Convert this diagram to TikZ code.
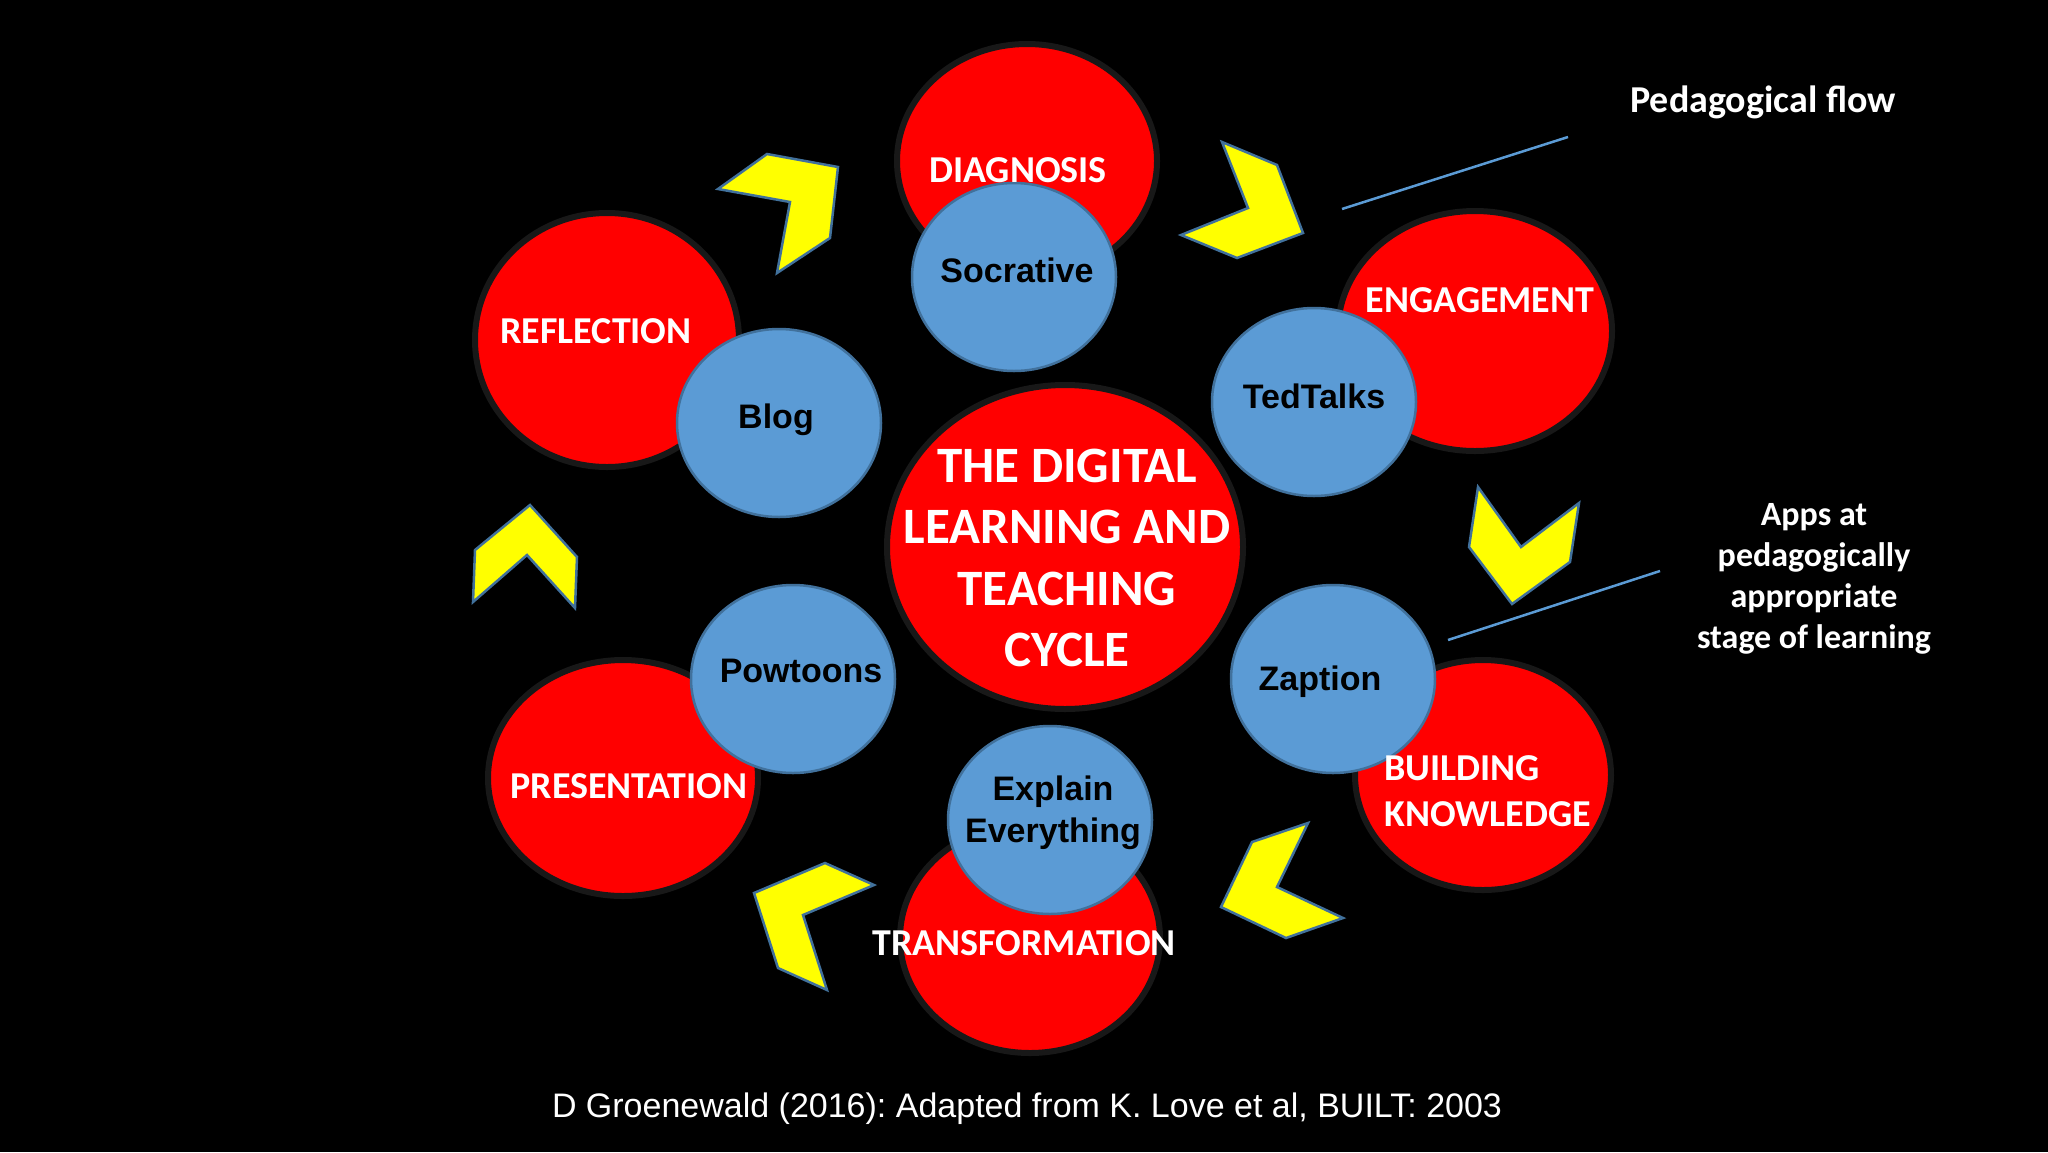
\documentclass[tikz,border=0pt]{standalone}
\usepackage{fontspec}
\setmainfont{Carlito}
\newfontfamily\arialf{Liberation Sans}
\usetikzlibrary{shapes.geometric}
\definecolor{pred}{RGB}{255,0,0}
\definecolor{pblue}{RGB}{91,155,213}
\definecolor{pbord}{RGB}{65,113,156}
\definecolor{pyel}{RGB}{255,255,0}
\definecolor{pring}{RGB}{24,24,24}
\frenchspacing
\begin{document}
\begin{tikzpicture}[x=1pt,y=-1pt,
  redc/.style={ellipse, fill=pred, draw=pring, line width=6pt, inner sep=0pt},
  bluec/.style={ellipse, fill=pblue, draw=pbord, line width=2.5pt, inner sep=0pt, minimum width=204pt, minimum height=188pt},
  redlab/.style={text=white, font=\fontsize{38}{44}\selectfont\bfseries, anchor=base, inner sep=0pt},
  bluelab/.style={text=black, font=\arialf\fontsize{34}{42}\selectfont\bfseries, inner sep=0pt},
  chev/.style={fill=pyel, draw=pbord, line width=2.5pt, line join=miter},
  pline/.style={draw=pblue, line width=2.5pt},
  note/.style={text=white, font=\fontsize{38}{41}\selectfont\bfseries, inner sep=0pt}
]
\useasboundingbox (0,0) rectangle (2048,1152);
\fill[black] (0,0) rectangle (2048,1152);

% red stage circles
\node[redc, minimum width=260pt, minimum height=234pt] (diag) at (1027,161) {};
\node[redc, minimum width=274pt, minimum height=240pt] (eng) at (1475,331) {};
\node[redc, minimum width=264pt, minimum height=254pt] (refl) at (607,340) {};
\node[redc, minimum width=356pt, minimum height=324pt] (core) at (1065,547) {};
\node[redc, minimum width=256pt, minimum height=230pt] (build) at (1483,775) {};
\node[redc, minimum width=260pt, minimum height=230pt] (trans) at (1030,938) {};
\node[redc, minimum width=270pt, minimum height=236pt] (pres) at (623,778) {};

% blue app circles
\node[bluec] (socr) at (1014,277) {};
\node[bluec] (ted) at (1314,402) {};
\node[bluec] (blog) at (779,423) {};
\node[bluec] (pow) at (793,679) {};
\node[bluec] (zap) at (1333,679) {};
\node[bluec] (expl) at (1050,820) {};

% chevrons
\filldraw[chev] (718,189) -- (767,154) -- (838,167) -- (830,238) -- (777,273) -- (790,202) -- cycle;
\filldraw[chev] (475,550) -- (530,505) -- (577,557) -- (575,608) -- (527,555) -- (473,602) -- cycle;
\filldraw[chev] (1222,142) -- (1277,165) -- (1303,233) -- (1237,258) -- (1181,235) -- (1248,208) -- cycle;
\filldraw[chev] (1478,487) -- (1521,547) -- (1579,503) -- (1570,562) -- (1512,604) -- (1469,547) -- cycle;
\filldraw[chev] (1308,823) -- (1252,842) -- (1221,907) -- (1286,938) -- (1343,918) -- (1277,887) -- cycle;
\filldraw[chev] (825,863) -- (874,885) -- (803,915) -- (827,990) -- (778,968) -- (754,893) -- cycle;

% stage labels
\node[redlab] (tdiag) at (1018,182) {DIAGNOSIS};
\node[redlab] (teng) at (1480,312) {ENGAGEMENT};
\node[redlab] (trefl) at (596,343) {REFLECTION};
\node[redlab] (tpres) at (629,798) {PRESENTATION};
\node[redlab] (ttrans) at (1024,955) {TRANSFORMATION};
\node[redlab, anchor=north west, align=left, font=\fontsize{38}{46}\selectfont\bfseries] (tbuild) at (1384,755) {BUILDING\\KNOWLEDGE};
\node[text=white, font=\fontsize{51}{61.3}\selectfont\bfseries, align=center, inner sep=0pt] (tcore) at (1067,558) {THE DIGITAL\\LEARNING AND\\TEACHING\\CYCLE};

% app labels
\node[bluelab, anchor=base] (tsocr) at (1017,282) {Socrative};
\node[bluelab, anchor=base] (tted) at (1314,408) {TedTalks};
\node[bluelab, anchor=base] (tblog) at (776,428) {Blog};
\node[bluelab, anchor=base] (tpow) at (801,682) {Powtoons};
\node[bluelab, anchor=base] (tzap) at (1320,690) {Zaption};
\node[bluelab, anchor=north, align=center] (texpl) at (1053,776) {Explain\\Everything};

% annotations
\node[note, anchor=base] (flow) at (1763,112) {Pedagogical flow};
\node[note, anchor=north, align=center, font=\fontsize{34}{41}\selectfont\bfseries] (apps) at (1814,503) {Apps at\\pedagogically\\appropriate\\stage of learning};
\coordinate (f1) at (1342,209);
\coordinate (f2) at (1568,137);
\coordinate (a1) at (1448,640);
\coordinate (a2) at (1660,571);
\draw[pline] (f1) -- (f2);
\draw[pline] (a1) -- (a2);

% footer
\node[text=white, font=\arialf\fontsize{34}{40}\selectfont, anchor=base, inner sep=0pt] (foot) at (1027,1117) {D Groenewald (2016): Adapted from K. Love et al, BUILT: 2003};
\end{tikzpicture}
\end{document}
